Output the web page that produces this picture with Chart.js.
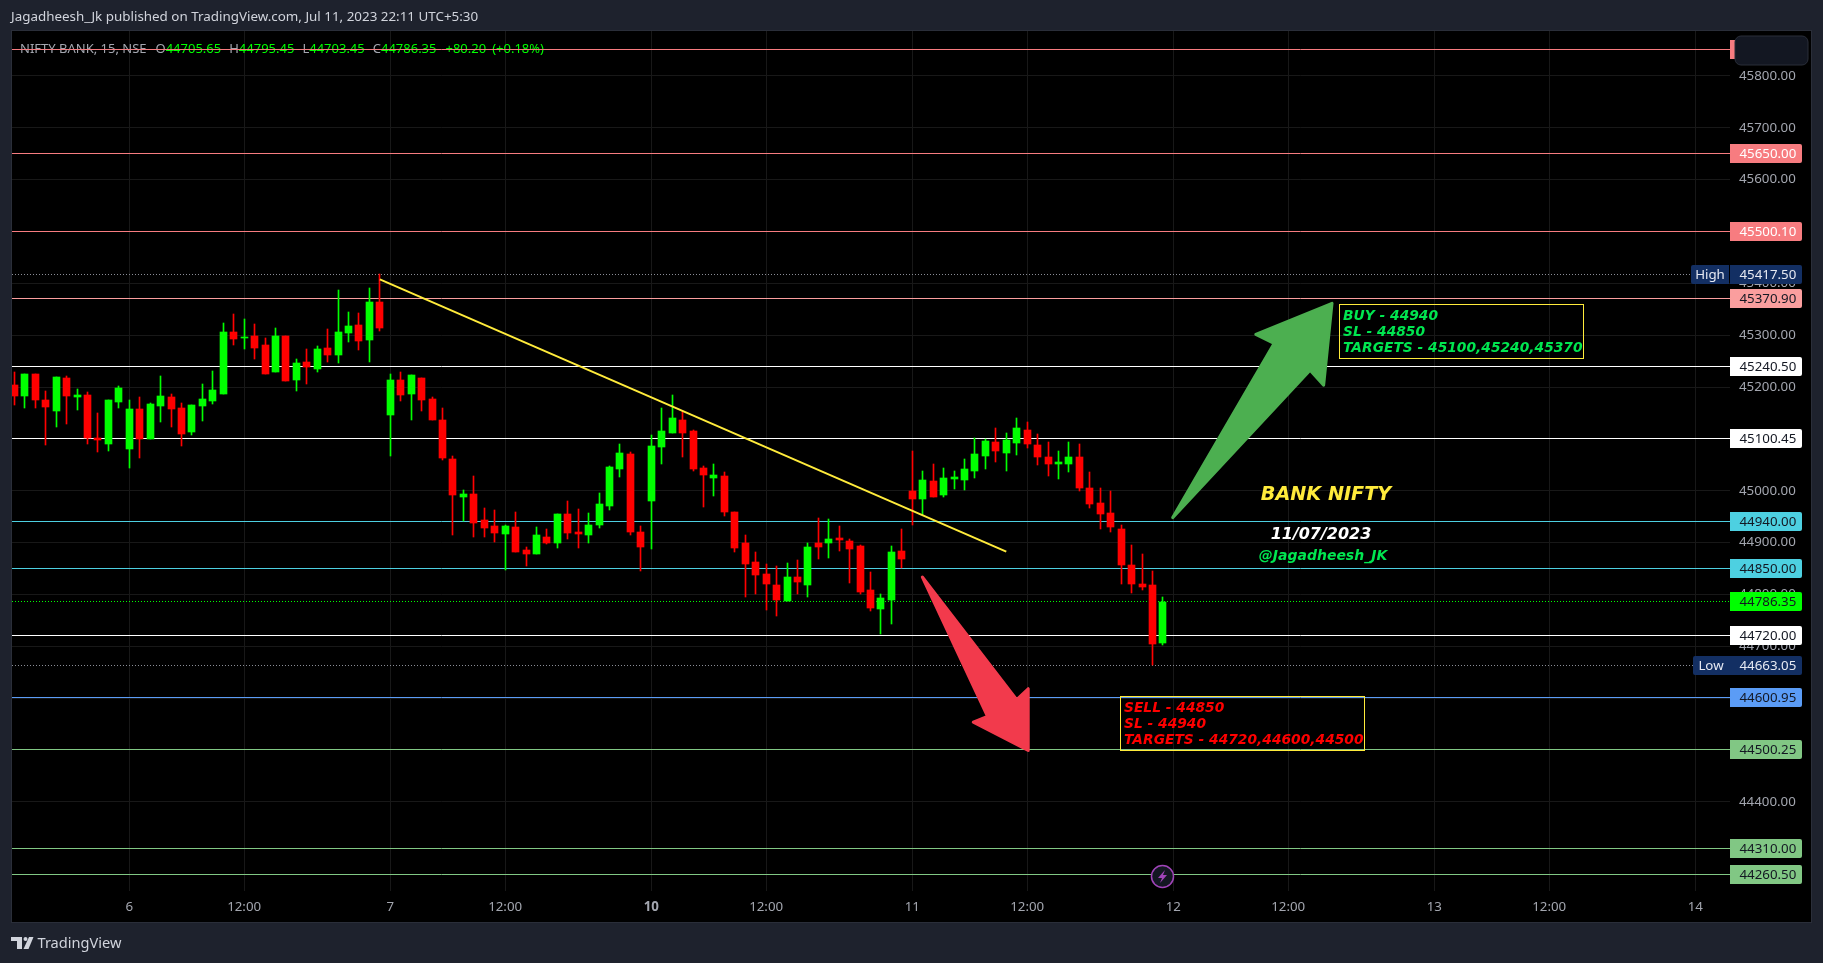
<!DOCTYPE html>
<html>
<head>
<meta charset="utf-8">
<title>NIFTY BANK 15</title>
<script src="https://cdn.jsdelivr.net/npm/chart.js@4"></script>
<style>
  html, body { margin: 0; padding: 0; background: #1e222d; overflow: hidden; }
  canvas { display: block; }
</style>
</head>
<body>
<canvas id="chart" width="1823" height="963"></canvas>
<script>
// 15 min bars. Rows: rest of Jul 5, then Jul 6, 7, 10, 11 (25 bars a day)
const opens = [
  45203.6, 45182.4, 45224.9, 45174.7, 45153.4, 45217.1, 45180.5, 45184.3, 45101.3, 45089.7, 45170.8,
  45080.1, 45157.3, 45099.4, 45163.1, 45180.5, 45159.2, 45112.9, 45163.1, 45172.7, 45186.2, 45305.9, 45294.3, 45298.2, 45280.8, 45228.7, 45298.2, 45213.3, 45248.0, 45234.5, 45275.0, 45261.5, 45304.0, 45319.4, 45290.5, 45363.8,
  45145.7, 45213.3, 45186.2, 45217.1, 45176.5, 45136.0, 45060.7, 44987.4, 44993.2, 44943.0, 44931.4, 44915.9, 44929.5, 44885.1, 44877.3, 44910.2, 44898.6, 44954.6, 44919.8, 44914.0, 44933.3, 44970.0, 45041.4, 45070.4, 44919.8,
  44979.6, 45083.9, 45110.9, 45136.0, 45114.8, 45043.3, 45024.0, 45027.9, 44958.4, 44898.6, 44861.9, 44838.7, 44817.5, 44786.6, 44833.0, 44817.5, 44898.6, 44898.6, 44908.3, 44902.5, 44892.9, 44807.9, 44771.2, 44788.6, 44883.2,
  44999.0, 44983.6, 45018.3, 44991.3, 45022.2, 45020.2, 45037.6, 45066.6, 45093.6, 45072.3, 45091.6, 45116.8, 45087.8, 45064.6, 45051.1, 45051.1, 45064.6, 45004.8, 44975.8, 44956.5, 44925.7, 44856.2, 44819.5, 44817.6, 44705.65
];
const highs = [
  45228.7, 45224.9, 45224.9, 45192.0, 45219.1, 45221.0, 45195.9, 45190.1, 45149.6, 45174.7, 45201.7,
  45174.7, 45180.5, 45168.9, 45221.0, 45186.2, 45168.9, 45165.0, 45205.5, 45230.6, 45323.3, 45340.7, 45331.0, 45321.4, 45294.3, 45313.6, 45298.2, 45253.8, 45273.1, 45278.9, 45311.7, 45387.0, 45344.5, 45342.6, 45390.9, 45417.5,
  45224.9, 45228.7, 45222.9, 45217.1, 45180.4, 45159.2, 45066.5, 45000.9, 45027.9, 44966.1, 44962.3, 44933.3, 44958.4, 44890.9, 44929.5, 44925.6, 44954.6, 44979.6, 44964.2, 44956.5, 44995.1, 45047.2, 45089.7, 45074.2, 44931.4,
  45107.0, 45159.2, 45184.2, 45153.4, 45116.7, 45047.2, 45051.1, 45035.6, 44958.4, 44914.0, 44881.2, 44858.0, 44854.2, 44860.0, 44865.8, 44898.6, 44946.9, 44945.0, 44931.5, 44906.4, 44894.8, 44842.7, 44800.2, 44892.9, 44925.7,
  45076.2, 45037.6, 45051.1, 45043.4, 45037.6, 45060.8, 45101.3, 45099.4, 45120.6, 45111.0, 45139.9, 45132.2, 45109.0, 45093.6, 45076.2, 45093.6, 45089.7, 45035.7, 45004.8, 44999.0, 44933.4, 44894.8, 44877.4, 44844.6, 44795.45
];
const lows = [
  45165.0, 45159.2, 45159.2, 45087.8, 45122.6, 45128.3, 45155.4, 45089.7, 45074.3, 45076.2, 45159.2,
  45043.4, 45062.7, 45099.4, 45132.2, 45122.6, 45085.9, 45107.1, 45134.1, 45166.9, 45186.2, 45280.8, 45273.1, 45253.8, 45224.9, 45228.7, 45211.3, 45192.0, 45205.5, 45228.7, 45248.0, 45246.1, 45286.6, 45271.2, 45248.0, 45307.9,
  45066.6, 45172.7, 45136.1, 45153.4, 45136.0, 45058.8, 44914.0, 44941.0, 44910.2, 44910.2, 44900.5, 44846.5, 44881.2, 44854.2, 44877.3, 44896.6, 44888.9, 44906.3, 44888.9, 44898.6, 44927.5, 44962.3, 45026.0, 44914.0, 44844.5,
  44887.0, 45051.1, 45110.9, 45064.6, 45037.6, 44968.1, 44989.3, 44950.7, 44881.2, 44794.3, 44800.1, 44769.3, 44757.7, 44786.6, 44800.1, 44794.3, 44867.8, 44869.7, 44883.2, 44821.4, 44800.2, 44767.4, 44723.0, 44742.3, 44850.4,
  44933.4, 44952.7, 44987.4, 44987.4, 45002.9, 45000.9, 45024.1, 45041.5, 45055.0, 45037.6, 45068.5, 45082.0, 45049.2, 45028.0, 45022.2, 45035.7, 44999.0, 44966.2, 44925.7, 44919.8, 44819.5, 44802.1, 44807.9, 44663.05, 44703.45
];
const closes = [
  45182.4, 45224.9, 45174.7, 45161.2, 45219.1, 45182.4, 45184.3, 45101.3, 45097.5, 45174.7, 45197.8,
  45157.3, 45099.4, 45166.9, 45182.4, 45157.3, 45109.0, 45165.0, 45176.6, 45194.0, 45305.9, 45292.4, 45296.3, 45275.0, 45224.9, 45298.2, 45211.3, 45246.1, 45238.4, 45273.1, 45261.5, 45305.9, 45317.5, 45288.6, 45363.8, 45313.6,
  45213.3, 45184.3, 45222.9, 45174.6, 45136.0, 45062.6, 44991.2, 44993.2, 44937.2, 44927.5, 44917.9, 44931.4, 44881.2, 44877.3, 44914.0, 44898.6, 44954.6, 44917.9, 44915.9, 44933.3, 44973.9, 45045.3, 45072.3, 44919.8, 44890.9,
  45085.8, 45114.8, 45139.9, 45110.9, 45041.4, 45029.8, 45029.8, 44958.4, 44888.9, 44858.0, 44836.8, 44819.4, 44788.6, 44833.0, 44823.3, 44890.9, 44890.9, 44906.4, 44904.4, 44887.0, 44804.0, 44773.2, 44792.5, 44881.3, 44867.8,
  44983.6, 45020.2, 44987.4, 45024.1, 45026.0, 45041.5, 45070.4, 45095.5, 45076.2, 45097.4, 45120.6, 45089.7, 45064.6, 45051.1, 45055.0, 45064.6, 45004.8, 44973.9, 44954.6, 44929.5, 44856.2, 44819.5, 44813.7, 44703.7, 44786.35
];

// bar slots on the time axis, slot 0 is Jul 6 09:15
const firstSlot = -11;
const slots = opens.map((_, i) => i + firstSlot);

const priceTicks = [44400, 44500, 44600, 44700, 44800, 44900, 45000, 45100, 45200, 45300, 45400, 45500, 45600, 45700, 45800];
const timeTicks = [0, 11, 25, 36, 50, 61, 75, 86, 100, 111, 125, 136, 150];
const timeLabels = ['6', '12:00', '7', '12:00', '10', '12:00', '11', '12:00', '12', '12:00', '13', '12:00', '14'];

// horizontal levels drawn on the chart, with their price tags
const levelPrices = [45650, 45500.1, 45370.9, 45240.5, 45100.45, 44940, 44850, 44720, 44600.95, 44500.25, 44310, 44260.5];
const levelColors = ['#F77C80', '#F77C80', '#FA9E9E', '#FFFFFF', '#FFFFFF', '#4DD0E1', '#4DD0E1', '#FFFFFF', '#5B9CF6', '#81C784', '#81C784', '#81C784'];
const levelTextColors = ['#FFFFFF', '#FFFFFF', '#131722', '#131722', '#131722', '#131722', '#131722', '#131722', '#131722', '#131722', '#131722', '#131722'];
const topLevel = 45851.5;
const highPrice = 45417.5;
const lowPrice = 44663.05;
const lastPrice = 44786.35;

const trendLine = [{ x: 24, y: 45407.6 }, { x: 84, y: 44882.6 }];
const buyArrow = [[99.94, 44948.2], [109.65, 45284.1], [107.9, 45301.5], [115.2, 45361.3], [114.4, 45203.6], [113.1, 45232.6]];
const sellArrow = [[75.96, 44833.6], [85.0, 44597.0], [86.1, 44618.2], [86.1, 44499.1], [80.84, 44553.7], [82.2, 44564.7]];

const FONT = '"Noto Sans", sans-serif';
const NOTE_FONT = '"DejaVu Sans", sans-serif';
const GREEN = '#00FF00';
const RED = '#FF0000';
const NOTE_GREEN = '#00E650';
const GRID = '#181818';
const AXIS_TEXT = '#A3A6AF';

function text(ctx, str, x, y, font, color, align) {
  ctx.font = font;
  ctx.fillStyle = color;
  ctx.textAlign = align || 'left';
  ctx.textBaseline = 'middle';
  ctx.fillText(str, x, y);
}

function crisp(v) {
  return Math.floor(v) + 0.5;
}

function hline(ctx, y, x0, x1, color, dash) {
  ctx.save();
  ctx.strokeStyle = color;
  ctx.lineWidth = 1;
  ctx.setLineDash(dash || []);
  ctx.beginPath();
  ctx.moveTo(x0, y);
  ctx.lineTo(x1, y);
  ctx.stroke();
  ctx.restore();
}

function priceTag(ctx, yPx, price, bg, fg) {
  const top = Math.floor(yPx) - 9;
  ctx.fillStyle = bg;
  ctx.beginPath();
  ctx.roundRect(1730, top, 72, 19, [0, 2, 2, 0]);
  ctx.fill();
  text(ctx, price.toFixed(2), 1739.5, top + 10, '13.3px ' + FONT, fg);
}

function sideTag(ctx, yPx, name, left) {
  const top = Math.floor(yPx) - 9;
  ctx.fillStyle = '#132F63';
  ctx.beginPath();
  ctx.roundRect(left, top, 38, 19, [2, 0, 0, 2]);
  ctx.fill();
  text(ctx, name, (left + 1729) / 2, top + 10, '13.3px ' + FONT, '#E6E9F2', 'center');
}

function arrow(chart, points, color) {
  const { ctx, scales } = chart;
  ctx.save();
  ctx.fillStyle = color;
  ctx.strokeStyle = color;
  ctx.lineWidth = 3;
  ctx.lineJoin = 'round';
  ctx.beginPath();
  points.forEach((p, i) => {
    const x = scales.x.getPixelForValue(p[0]);
    const y = scales.y.getPixelForValue(p[1]);
    if (i === 0) ctx.moveTo(x, y); else ctx.lineTo(x, y);
  });
  ctx.closePath();
  ctx.stroke();
  ctx.fill();
  ctx.restore();
}

function noteBox(ctx, x, y, w, h, lines, color) {
  ctx.strokeStyle = '#FFEB3B';
  ctx.lineWidth = 1;
  ctx.strokeRect(x + 0.5, y + 0.5, w, h);
  lines.forEach((l, i) => {
    text(ctx, l, x + 4, y + 12.5 + i * 16, 'italic bold 13.8px ' + NOTE_FONT, color);
  });
}

const overlayPlugin = {
  id: 'overlay',

  beforeDraw(chart) {
    const ctx = chart.ctx;
    ctx.save();
    ctx.fillStyle = '#1E222D';
    ctx.fillRect(0, 0, 1823, 963);
    ctx.fillStyle = '#000000';
    ctx.fillRect(11, 31, 1800, 891);
    ctx.strokeStyle = '#2A2E39';
    ctx.lineWidth = 1;
    ctx.strokeRect(11.5, 30.5, 1800, 892);

    text(ctx, 'Jagadheesh_Jk published on TradingView.com, Jul 11, 2023 22:11 UTC+5:30', 11, 17, '13.4px ' + FONT, '#D1D4DC');

    // footer logo + name
    ctx.fillStyle = '#D1D4DC';
    ctx.fillRect(11, 937, 11, 4);
    ctx.fillRect(17, 937, 5, 12);
    ctx.beginPath();
    ctx.arc(25.5, 939, 2, 0, Math.PI * 2);
    ctx.fill();
    ctx.beginPath();
    ctx.moveTo(29, 937); ctx.lineTo(33.5, 937); ctx.lineTo(28.5, 949); ctx.lineTo(23.5, 949);
    ctx.closePath();
    ctx.fill();
    text(ctx, 'TradingView', 37.5, 944, '14.6px ' + FONT, '#D1D4DC');
    ctx.restore();
  },

  beforeDatasetsDraw(chart) {
    const { ctx, scales } = chart;
    const y = scales.y;
    ctx.save();

    // symbol legend sits under the top level line
    let x = 20;
    const legend = [
      ['NIFTY BANK, 15, NSE', AXIS_TEXT, 9], ['O', AXIS_TEXT, 0], ['44705.65', GREEN, 8],
      ['H', AXIS_TEXT, 0], ['44795.45', GREEN, 8], ['L', AXIS_TEXT, 0], ['44703.45', GREEN, 8],
      ['C', AXIS_TEXT, 0], ['44786.35', GREEN, 9], ['+80.20', GREEN, 6], ['(+0.18%)', GREEN, 0]
    ];
    legend.forEach(l => {
      text(ctx, l[0], x, 49, '13px ' + FONT, l[1]);
      x += ctx.measureText(l[0]).width + l[2];
    });

    hline(ctx, crisp(y.getPixelForValue(topLevel)), 12, 1730, '#F77C80');
    levelPrices.forEach((p, i) => hline(ctx, crisp(y.getPixelForValue(p)), 12, 1730, levelColors[i]));
    hline(ctx, crisp(y.getPixelForValue(highPrice)), 12, 1691, '#8A8D96', [1, 2]);
    hline(ctx, crisp(y.getPixelForValue(lowPrice)), 12, 1693, '#8A8D96', [1, 2]);
    hline(ctx, crisp(y.getPixelForValue(lastPrice)), 12, 1730, GREEN, [1, 2]);
    ctx.restore();

    // snap the candles to whole pixels, TradingView draws them hard edged
    [0, 1].forEach(d => {
      chart.getDatasetMeta(d).data.forEach(el => {
        el.x = crisp(el.x);
        el.y = Math.round(el.y);
        el.base = Math.round(el.base);
        if (el.y === el.base) el.base = el.y + 1;
      });
    });
  },

  afterDatasetsDraw(chart) {
    const ctx = chart.ctx;
    arrow(chart, buyArrow, '#4CAF50');
    arrow(chart, sellArrow, '#F23A4C');

    ctx.save();
    noteBox(ctx, 1339, 304, 244, 54, ['BUY - 44940', 'SL - 44850', 'TARGETS - 45100,45240,45370'], NOTE_GREEN);
    noteBox(ctx, 1120, 696, 244, 54, ['SELL - 44850', 'SL - 44940', 'TARGETS - 44720,44600,44500'], RED);
    text(ctx, 'BANK NIFTY', 1326, 495.5, 'italic bold 19.2px ' + NOTE_FONT, '#FFEB3B', 'center');
    text(ctx, '11/07/2023', 1321, 534.5, 'italic bold 16px ' + NOTE_FONT, '#FFFFFF', 'center');
    text(ctx, '@Jagadheesh_JK', 1323, 556, 'italic bold 14px ' + NOTE_FONT, NOTE_GREEN, 'center');

    // lightning marker near the session break
    ctx.fillStyle = '#131722';
    ctx.strokeStyle = '#A044B8';
    ctx.lineWidth = 1.5;
    ctx.beginPath();
    ctx.arc(1162.5, 876.5, 11, 0, Math.PI * 2);
    ctx.fill();
    ctx.stroke();
    ctx.fillStyle = '#A044B8';
    ctx.beginPath();
    ctx.moveTo(1165, 870); ctx.lineTo(1158, 878); ctx.lineTo(1162, 878);
    ctx.lineTo(1160, 883); ctx.lineTo(1167, 875); ctx.lineTo(1163, 875);
    ctx.closePath();
    ctx.fill();
    ctx.restore();
  },

  afterDraw(chart) {
    const { ctx, scales } = chart;
    const y = scales.y;
    ctx.save();
    ctx.fillStyle = '#F77C80';
    ctx.fillRect(1730, 40, 5, 19);
    ctx.fillStyle = '#131722';
    ctx.strokeStyle = '#2A2E39';
    ctx.lineWidth = 1;
    ctx.beginPath();
    ctx.roundRect(1735, 36, 73, 29, 6);
    ctx.fill();
    ctx.stroke();

    levelPrices.forEach((p, i) => priceTag(ctx, y.getPixelForValue(p), p, levelColors[i], levelTextColors[i]));
    priceTag(ctx, y.getPixelForValue(highPrice), highPrice, '#132F63', '#E6E9F2');
    priceTag(ctx, y.getPixelForValue(lowPrice), lowPrice, '#132F63', '#E6E9F2');
    priceTag(ctx, y.getPixelForValue(lastPrice), lastPrice, GREEN, '#131722');
    sideTag(ctx, y.getPixelForValue(highPrice), 'High', 1691);
    sideTag(ctx, y.getPixelForValue(lowPrice), 'Low', 1693);
    ctx.restore();
  }
};

new Chart(document.getElementById('chart'), {
  type: 'bar',
  data: {
    datasets: [
      {
        // wicks
        data: slots.map((s, i) => ({ x: s, y: [lows[i], highs[i]] })),
        backgroundColor: slots.map((s, i) => (closes[i] >= opens[i] ? GREEN : RED)),
        barThickness: 1,
        grouped: false,
        order: 2
      },
      {
        // bodies
        data: slots.map((s, i) => ({ x: s, y: [opens[i], closes[i]] })),
        backgroundColor: slots.map((s, i) => (closes[i] >= opens[i] ? GREEN : RED)),
        barThickness: 7,
        grouped: false,
        order: 1
      },
      {
        type: 'line',
        data: trendLine,
        borderColor: '#FFEB3B',
        borderWidth: 2,
        pointRadius: 0,
        order: 0
      }
    ]
  },
  options: {
    responsive: false,
    animation: false,
    devicePixelRatio: 1,
    layout: { padding: { left: 12, top: 31, right: 12, bottom: 41 } },
    plugins: { legend: { display: false }, tooltip: { enabled: false } },
    scales: {
      x: {
        type: 'linear',
        offset: false,
        min: -11.235,
        max: 153.32,
        afterFit(scale) { scale.height = 31; },
        afterBuildTicks(scale) { scale.ticks = timeTicks.map(v => ({ value: v })); },
        grid: { color: GRID, offset: false, drawTicks: false },
        border: { display: false },
        ticks: {
          autoSkip: false,
          maxRotation: 0,
          padding: 8,
          color: AXIS_TEXT,
          font: ctx => ({ family: FONT, size: 13.3, weight: timeLabels[ctx.index] === '10' ? 'bold' : 'normal' }),
          callback: (v, i) => timeLabels[i]
        }
      },
      y: {
        type: 'linear',
        position: 'right',
        min: 44228.06,
        max: 45886.69,
        afterFit(scale) { scale.width = 81; },
        afterBuildTicks(scale) { scale.ticks = priceTicks.map(v => ({ value: v })); },
        grid: { color: GRID, drawTicks: false },
        border: { display: false },
        ticks: {
          autoSkip: false,
          padding: 9,
          color: AXIS_TEXT,
          font: { family: FONT, size: 13.3 },
          callback: v => v.toFixed(2)
        }
      }
    }
  },
  plugins: [overlayPlugin]
});
</script>
</body>
</html>
